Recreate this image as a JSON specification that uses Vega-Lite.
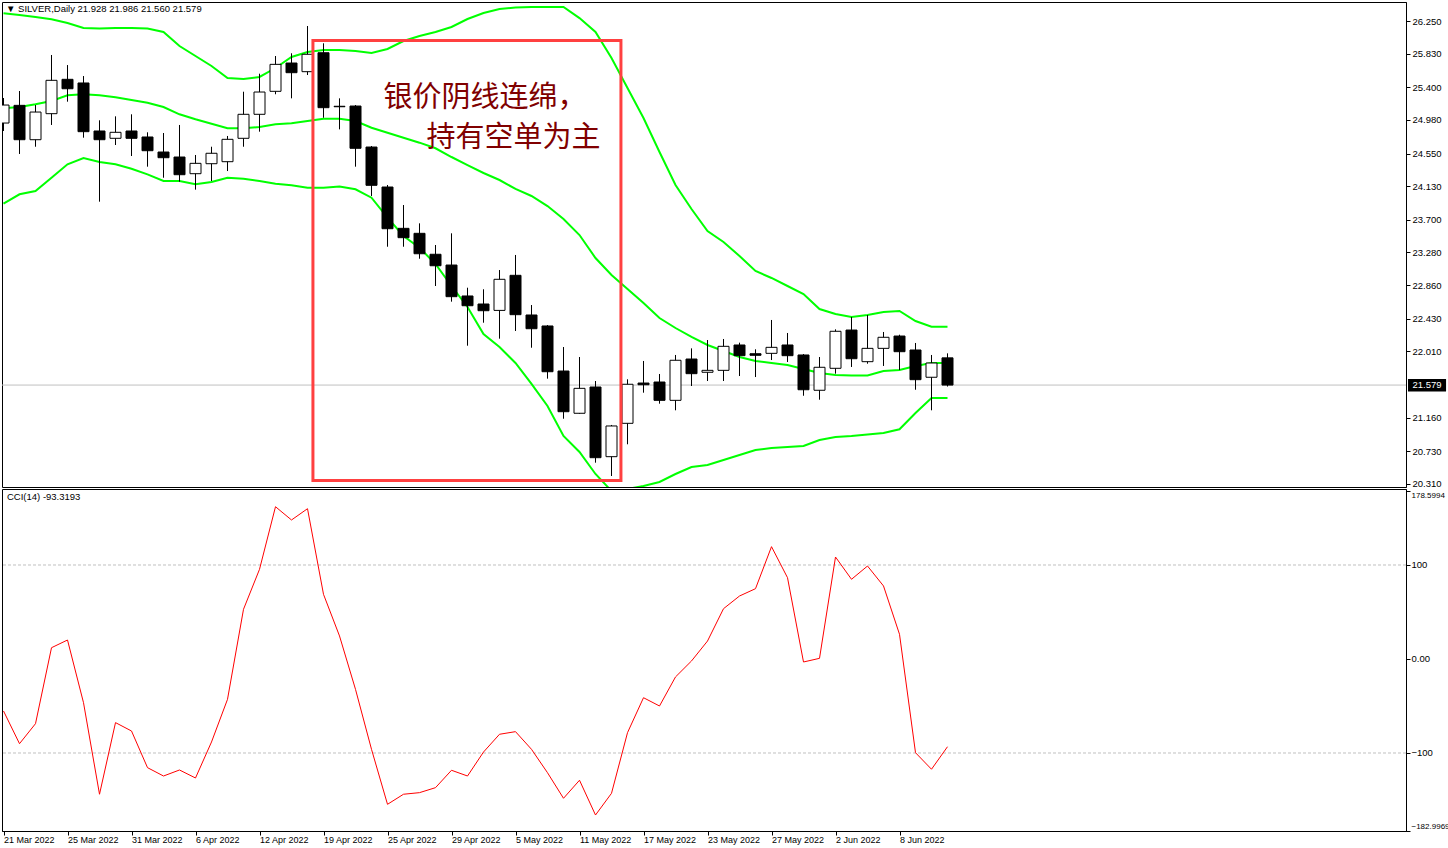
{
  "$schema": "https://vega.github.io/schema/vega-lite/v6.json",
  "padding": {"left": 1, "top": 1, "right": 0, "bottom": 0},
  "background": "white",
  "spacing": -1,
  "config": {
    "view": {"stroke": "black", "strokeWidth": 1},
    "font": "Liberation Sans",
    "scale": {"continuousPadding": 0},
    "axis": {
      "labelFont": "Liberation Sans", "labelFontSize": 9.5, "labelColor": "black",
      "domainColor": "black", "tickColor": "black", "tickSize": 4, "grid": false, "labelOverlap": false
    }
  },
  "datasets": {
    "bars": [
      {"i":0,"date":"2022-03-21","o":24.941,"h":25.262,"l":24.839,"c":25.172,"upper":26.349,"mid":25.130,"lower":23.906,"cci":-55.3},
      {"i":1,"date":"2022-03-22","o":25.168,"h":25.352,"l":24.544,"c":24.727,"upper":26.327,"mid":25.147,"lower":24.027,"cci":-90.1},
      {"i":2,"date":"2022-03-23","o":24.727,"h":25.172,"l":24.637,"c":25.082,"upper":26.301,"mid":25.181,"lower":24.069,"cci":-68.8},
      {"i":3,"date":"2022-03-24","o":25.061,"h":25.814,"l":24.916,"c":25.489,"upper":26.272,"mid":25.224,"lower":24.240,"cci":12.0},
      {"i":4,"date":"2022-03-25","o":25.502,"h":25.685,"l":25.215,"c":25.381,"upper":26.224,"mid":25.297,"lower":24.411,"cci":20.2},
      {"i":5,"date":"2022-03-28","o":25.455,"h":25.544,"l":24.753,"c":24.830,"upper":26.160,"mid":25.310,"lower":24.492,"cci":-46.5},
      {"i":6,"date":"2022-03-29","o":24.839,"h":24.976,"l":23.932,"c":24.727,"upper":26.154,"mid":25.297,"lower":24.441,"cci":-143.9},
      {"i":7,"date":"2022-03-30","o":24.745,"h":25.027,"l":24.659,"c":24.822,"upper":26.160,"mid":25.271,"lower":24.411,"cci":-67.7},
      {"i":8,"date":"2022-03-31","o":24.839,"h":25.053,"l":24.518,"c":24.745,"upper":26.160,"mid":25.236,"lower":24.355,"cci":-76.6},
      {"i":9,"date":"2022-04-01","o":24.762,"h":24.822,"l":24.381,"c":24.586,"upper":26.154,"mid":25.202,"lower":24.283,"cci":-115.6},
      {"i":10,"date":"2022-04-04","o":24.569,"h":24.813,"l":24.239,"c":24.496,"upper":26.109,"mid":25.147,"lower":24.197,"cci":-124.5},
      {"i":11,"date":"2022-04-05","o":24.505,"h":24.916,"l":24.188,"c":24.278,"upper":25.929,"mid":25.053,"lower":24.197,"cci":-118.1},
      {"i":12,"date":"2022-04-06","o":24.291,"h":24.531,"l":24.086,"c":24.424,"upper":25.801,"mid":24.989,"lower":24.155,"cci":-126.6},
      {"i":13,"date":"2022-04-07","o":24.419,"h":24.637,"l":24.197,"c":24.553,"upper":25.673,"mid":24.932,"lower":24.184,"cci":-88.3},
      {"i":14,"date":"2022-04-08","o":24.445,"h":24.775,"l":24.325,"c":24.732,"upper":25.519,"mid":24.873,"lower":24.240,"cci":-42.9},
      {"i":15,"date":"2022-04-11","o":24.745,"h":25.343,"l":24.637,"c":25.053,"upper":25.506,"mid":24.873,"lower":24.227,"cci":52.9},
      {"i":16,"date":"2022-04-12","o":25.053,"h":25.574,"l":24.830,"c":25.339,"upper":25.532,"mid":24.890,"lower":24.197,"cci":95.4},
      {"i":17,"date":"2022-04-13","o":25.348,"h":25.801,"l":25.310,"c":25.694,"upper":25.647,"mid":24.925,"lower":24.163,"cci":162.0},
      {"i":18,"date":"2022-04-14","o":25.711,"h":25.836,"l":25.258,"c":25.587,"upper":25.788,"mid":24.937,"lower":24.142,"cci":147.9},
      {"i":19,"date":"2022-04-18","o":25.600,"h":26.186,"l":25.557,"c":25.823,"upper":25.852,"mid":24.967,"lower":24.111,"cci":159.9},
      {"i":20,"date":"2022-04-19","o":25.843,"h":25.964,"l":25.009,"c":25.138,"upper":25.878,"mid":24.997,"lower":24.111,"cci":68.8},
      {"i":21,"date":"2022-04-20","o":25.156,"h":25.258,"l":24.860,"c":25.150,"upper":25.878,"mid":24.997,"lower":24.127,"cci":24.5},
      {"i":22,"date":"2022-04-21","o":25.159,"h":25.172,"l":24.381,"c":24.617,"upper":25.865,"mid":24.967,"lower":24.091,"cci":-32.3},
      {"i":23,"date":"2022-04-22","o":24.633,"h":24.646,"l":24.005,"c":24.142,"upper":25.839,"mid":24.881,"lower":23.983,"cci":-96.1},
      {"i":24,"date":"2022-04-25","o":24.120,"h":24.146,"l":23.354,"c":23.585,"upper":25.891,"mid":24.817,"lower":23.726,"cci":-154.6},
      {"i":25,"date":"2022-04-26","o":23.590,"h":23.889,"l":23.354,"c":23.470,"upper":25.993,"mid":24.753,"lower":23.492,"cci":-143.9},
      {"i":26,"date":"2022-04-27","o":23.526,"h":23.654,"l":23.200,"c":23.264,"upper":26.058,"mid":24.689,"lower":23.341,"cci":-142.2},
      {"i":27,"date":"2022-04-28","o":23.257,"h":23.376,"l":22.850,"c":23.110,"upper":26.109,"mid":24.617,"lower":23.132,"cci":-136.9},
      {"i":28,"date":"2022-04-29","o":23.119,"h":23.526,"l":22.649,"c":22.713,"upper":26.173,"mid":24.505,"lower":22.850,"cci":-118.4},
      {"i":29,"date":"2022-05-02","o":22.722,"h":22.828,"l":22.084,"c":22.597,"upper":26.276,"mid":24.402,"lower":22.581,"cci":-124.5},
      {"i":30,"date":"2022-05-03","o":22.619,"h":22.808,"l":22.379,"c":22.533,"upper":26.353,"mid":24.300,"lower":22.234,"cci":-99.0},
      {"i":31,"date":"2022-05-04","o":22.537,"h":23.055,"l":22.174,"c":22.936,"upper":26.404,"mid":24.210,"lower":22.067,"cci":-80.1},
      {"i":32,"date":"2022-05-05","o":22.987,"h":23.248,"l":22.273,"c":22.482,"upper":26.423,"mid":24.095,"lower":21.862,"cci":-77.3},
      {"i":33,"date":"2022-05-06","o":22.478,"h":22.606,"l":22.058,"c":22.302,"upper":26.430,"mid":24.005,"lower":21.593,"cci":-96.1},
      {"i":34,"date":"2022-05-09","o":22.337,"h":22.349,"l":21.661,"c":21.750,"upper":26.430,"mid":23.876,"lower":21.310,"cci":-121.0},
      {"i":35,"date":"2022-05-10","o":21.759,"h":22.067,"l":21.147,"c":21.237,"upper":26.430,"mid":23.710,"lower":20.926,"cci":-148.2},
      {"i":36,"date":"2022-05-11","o":21.217,"h":21.939,"l":21.210,"c":21.537,"upper":26.288,"mid":23.504,"lower":20.720,"cci":-129.0},
      {"i":37,"date":"2022-05-12","o":21.554,"h":21.631,"l":20.583,"c":20.647,"upper":26.109,"mid":23.209,"lower":20.438,"cci":-166.0},
      {"i":38,"date":"2022-05-13","o":20.660,"h":21.067,"l":20.412,"c":21.054,"upper":25.775,"mid":22.991,"lower":20.220,"cci":-142.9},
      {"i":39,"date":"2022-05-16","o":21.088,"h":21.653,"l":20.819,"c":21.589,"upper":25.390,"mid":22.812,"lower":20.246,"cci":-78.4},
      {"i":40,"date":"2022-05-17","o":21.605,"h":21.888,"l":21.481,"c":21.583,"upper":25.005,"mid":22.632,"lower":20.284,"cci":-41.2},
      {"i":41,"date":"2022-05-18","o":21.618,"h":21.721,"l":21.340,"c":21.383,"upper":24.569,"mid":22.439,"lower":20.335,"cci":-50.0},
      {"i":42,"date":"2022-05-19","o":21.383,"h":21.965,"l":21.255,"c":21.897,"upper":24.146,"mid":22.311,"lower":20.438,"cci":-19.1},
      {"i":43,"date":"2022-05-20","o":21.913,"h":22.050,"l":21.567,"c":21.725,"upper":23.838,"mid":22.196,"lower":20.528,"cci":-2.1},
      {"i":44,"date":"2022-05-23","o":21.743,"h":22.157,"l":21.631,"c":21.768,"upper":23.556,"mid":22.093,"lower":20.553,"cci":19.1},
      {"i":45,"date":"2022-05-24","o":21.768,"h":22.170,"l":21.631,"c":22.076,"upper":23.415,"mid":22.016,"lower":20.618,"cci":53.5},
      {"i":46,"date":"2022-05-25","o":22.093,"h":22.123,"l":21.695,"c":21.956,"upper":23.235,"mid":21.939,"lower":20.682,"cci":67.0},
      {"i":47,"date":"2022-05-26","o":21.981,"h":22.038,"l":21.682,"c":21.961,"upper":23.043,"mid":21.888,"lower":20.746,"cci":74.8},
      {"i":48,"date":"2022-05-27","o":21.986,"h":22.414,"l":21.900,"c":22.063,"upper":22.953,"mid":21.862,"lower":20.772,"cci":119.5},
      {"i":49,"date":"2022-05-30","o":22.093,"h":22.247,"l":21.875,"c":21.956,"upper":22.850,"mid":21.836,"lower":20.784,"cci":86.5},
      {"i":50,"date":"2022-05-31","o":21.965,"h":21.977,"l":21.442,"c":21.519,"upper":22.747,"mid":21.785,"lower":20.797,"cci":-3.2},
      {"i":51,"date":"2022-06-01","o":21.512,"h":21.939,"l":21.391,"c":21.807,"upper":22.555,"mid":21.734,"lower":20.874,"cci":0.7},
      {"i":52,"date":"2022-06-02","o":21.794,"h":22.294,"l":21.725,"c":22.269,"upper":22.491,"mid":21.708,"lower":20.913,"cci":108.5},
      {"i":53,"date":"2022-06-03","o":22.285,"h":22.452,"l":21.811,"c":21.917,"upper":22.452,"mid":21.702,"lower":20.926,"cci":84.8},
      {"i":54,"date":"2022-06-06","o":21.879,"h":22.478,"l":21.853,"c":22.050,"upper":22.478,"mid":21.702,"lower":20.945,"cci":98.9},
      {"i":55,"date":"2022-06-07","o":22.050,"h":22.260,"l":21.824,"c":22.192,"upper":22.516,"mid":21.759,"lower":20.964,"cci":77.7},
      {"i":56,"date":"2022-06-08","o":22.208,"h":22.225,"l":21.772,"c":22.007,"upper":22.529,"mid":21.772,"lower":21.012,"cci":26.3},
      {"i":57,"date":"2022-06-09","o":22.029,"h":22.119,"l":21.519,"c":21.648,"upper":22.401,"mid":21.824,"lower":21.221,"cci":-99.7},
      {"i":58,"date":"2022-06-10","o":21.679,"h":21.965,"l":21.255,"c":21.862,"upper":22.328,"mid":21.862,"lower":21.413,"cci":-117.3},
      {"i":59,"date":"2022-06-13","o":21.928,"h":21.986,"l":21.560,"c":21.579,"upper":22.328,"mid":21.862,"lower":21.413,"cci":-93.3193}
    ]
  },
  "vconcat": [
    {
      "width": 1404,
      "height": 485,
      "title": {
        "text": "▼  SILVER,Daily  21.928 21.986 21.560 21.579",
        "anchor": "start", "frame": "group", "orient": "top",
        "offset": -11, "dx": 4,
        "font": "Liberation Sans", "fontSize": 9.5, "fontWeight": "normal", "color": "black"
      },
      "layer": [
        {
          "data": {"values": [{}]},
          "mark": {"type": "rule", "color": "#c0c0c0", "strokeWidth": 1},
          "encoding": {
            "y": {"datum": 21.579, "type": "quantitative", "scale": {"domain": [20.271, 26.494], "nice": false, "zero": false},
              "axis": {"orient": "right", "title": null, "values": [26.25, 25.83, 25.4, 24.98, 24.55, 24.13, 23.7, 23.28, 22.86, 22.43, 22.01, 21.16, 20.73, 20.31], "tickCount": 30, "format": ".3f", "labelPadding": 2, "labelOverlap": false}}
          }
        },
        {
          "data": {"name": "bars"},
          "mark": {"type": "line", "color": "#00ff00", "strokeWidth": 2, "clip": true},
          "encoding": {
            "x": {"field": "i", "type": "quantitative", "scale": {"domain": [-0.09375, 87.65625], "nice": false, "zero": false, "padding": 0}, "axis": null},
            "y": {"field": "upper", "type": "quantitative", "title": null}
          }
        },
        {
          "data": {"name": "bars"},
          "mark": {"type": "line", "color": "#00ff00", "strokeWidth": 2, "clip": true},
          "encoding": {
            "x": {"field": "i", "type": "quantitative"},
            "y": {"field": "mid", "type": "quantitative", "title": null}
          }
        },
        {
          "data": {"name": "bars"},
          "mark": {"type": "line", "color": "#00ff00", "strokeWidth": 2, "clip": true},
          "encoding": {
            "x": {"field": "i", "type": "quantitative"},
            "y": {"field": "lower", "type": "quantitative", "title": null}
          }
        },
        {
          "data": {"name": "bars"},
          "mark": {"type": "rule", "color": "black", "strokeWidth": 1, "clip": true},
          "encoding": {
            "x": {"field": "i", "type": "quantitative"},
            "y": {"field": "l", "type": "quantitative", "title": null},
            "y2": {"field": "h"}
          }
        },
        {
          "data": {"name": "bars"},
          "mark": {"type": "bar", "width": 11, "stroke": "black", "strokeWidth": 1, "clip": true},
          "encoding": {
            "x": {"field": "i", "type": "quantitative"},
            "y": {"field": "o", "type": "quantitative", "title": null},
            "y2": {"field": "c"},
            "fill": {"condition": {"test": "datum.c > datum.o", "value": "white"}, "value": "black"}
          }
        },
        {
          "data": {"values": [{}]},
          "mark": {"type": "rect", "filled": false, "stroke": "#ff4040", "strokeWidth": 3},
          "encoding": {
            "x": {"datum": 19.34, "type": "quantitative"},
            "x2": {"datum": 38.59},
            "y": {"datum": 26.0, "type": "quantitative"},
            "y2": {"datum": 20.355}
          }
        },
        {
          "data": {"values": [{}]},
          "mark": {"type": "text", "align": "left", "baseline": "middle", "font": "Noto Sans CJK SC", "fontSize": 29, "color": "#800000"},
          "encoding": {
            "x": {"datum": 23.75, "type": "quantitative"},
            "y": {"datum": 25.266, "type": "quantitative"},
            "text": {"value": "银价阴线连绵，"}
          }
        },
        {
          "data": {"values": [{}]},
          "mark": {"type": "text", "align": "left", "baseline": "middle", "font": "Noto Sans CJK SC", "fontSize": 29, "color": "#800000"},
          "encoding": {
            "x": {"datum": 26.44, "type": "quantitative"},
            "y": {"datum": 24.753, "type": "quantitative"},
            "text": {"value": "持有空单为主"}
          }
        },
        {
          "data": {"values": [{}]},
          "mark": {"type": "rect", "fill": "black"},
          "encoding": {
            "x": {"datum": 87.78, "type": "quantitative"},
            "x2": {"datum": 90.16},
            "y": {"datum": 21.657, "type": "quantitative"},
            "y2": {"datum": 21.495}
          }
        },
        {
          "data": {"values": [{}]},
          "mark": {"type": "text", "align": "center", "baseline": "middle", "font": "Liberation Sans", "fontSize": 9.5, "color": "white"},
          "encoding": {
            "x": {"datum": 88.97, "type": "quantitative"},
            "y": {"datum": 21.579, "type": "quantitative"},
            "text": {"value": "21.579"}
          }
        }
      ]
    },
    {
      "width": 1404,
      "height": 342,
      "title": {
        "text": "CCI(14) -93.3193",
        "anchor": "start", "frame": "group", "orient": "top",
        "offset": -12, "dx": 5,
        "font": "Liberation Sans", "fontSize": 9.5, "fontWeight": "normal", "color": "black"
      },
      "layer": [
        {
          "data": {"values": [{"level": 100}, {"level": -100}]},
          "mark": {"type": "rule", "color": "#c0c0c0", "strokeWidth": 1, "strokeDash": [3, 2]},
          "encoding": {
            "y": {"field": "level", "type": "quantitative", "scale": {"domain": [-183.0, 180.85], "nice": false, "zero": false},
              "axis": {"orient": "right", "title": null, "values": [178.5994, 100, 0, -100, -182.9969], "tickCount": 20, "labelFlush": 3, "labelPadding": 1, "labelOverlap": false,
                "labelFontSize": {"condition": {"test": "abs(datum.value) > 150", "value": 8}, "value": 9.5},
                "labelExpr": "abs(datum.value) > 150 ? format(datum.value, '.4f') : (datum.value == 0 ? '0.00' : format(datum.value, 'd'))"}}
          }
        },
        {
          "data": {"name": "bars"},
          "mark": {"type": "line", "color": "#ff0000", "strokeWidth": 1, "clip": true},
          "encoding": {
            "x": {"field": "i", "type": "quantitative", "scale": {"domain": [-0.09375, 87.65625], "nice": false, "zero": false, "padding": 0},
              "axis": {"title": null, "values": [0, 4, 8, 12, 16, 20, 24, 28, 32, 36, 40, 44, 48, 52, 56], "tickCount": 40, "labelAlign": "left", "labelDx": 1, "labelPadding": 0, "labelOverlap": false, "labelFontSize": 9,
                "labelExpr": "['21 Mar 2022','25 Mar 2022','31 Mar 2022','6 Apr 2022','12 Apr 2022','19 Apr 2022','25 Apr 2022','29 Apr 2022','5 May 2022','11 May 2022','17 May 2022','23 May 2022','27 May 2022','2 Jun 2022','8 Jun 2022'][round(datum.value / 4)]"}},
            "y": {"field": "cci", "type": "quantitative", "title": null}
          }
        }
      ]
    }
  ]
}
